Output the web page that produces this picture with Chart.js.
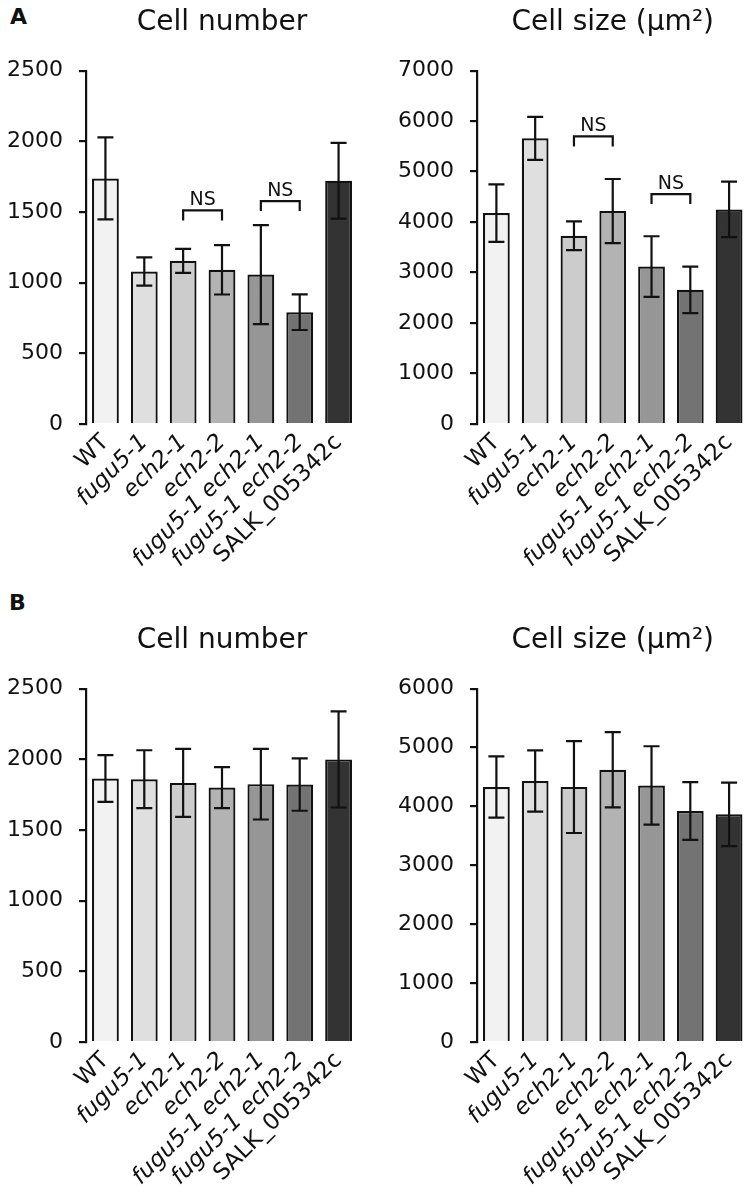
<!DOCTYPE html>
<html>
<head>
<meta charset="utf-8">
<script src="https://cdn.jsdelivr.net/npm/chart.js@4.4.1/dist/chart.umd.min.js"></script>
<style>
body { margin: 0; background: #fff; width: 754px; height: 1199px; position: relative; overflow: hidden; font-family: "DejaVu Sans", sans-serif; }
.panel { position: absolute; width: 377px; height: 582px; }
.letter { position: absolute; font-weight: bold; font-size: 22px; color: #111; }
</style>
</head>
<body>
<div class="letter" style="left:10px;top:4px">A</div>
<div class="letter" style="left:9px;top:590px">B</div>
<div class="panel" style="left:0;top:0"><canvas id="aNumber"></canvas></div>
<div class="panel" style="left:377px;top:0"><canvas id="aSize"></canvas></div>
<div class="panel" style="left:0;top:618px"><canvas id="bNumber"></canvas></div>
<div class="panel" style="left:377px;top:618px"><canvas id="bSize"></canvas></div>
<script>
const categories = ["WT", "fugu5-1", "ech2-1", "ech2-2", "fugu5-1 ech2-1", "fugu5-1 ech2-2", "SALK_005342c"];
const italicLabels = [false, true, true, true, true, true, false];
const barColors = ["#f2f2f2", "#dfdfdf", "#cccccc", "#b3b3b3", "#969696", "#737373", "#333333"];

// panel A
const aCellNumber = [1737, 1079, 1154, 1091, 1057, 791, 1721];
const aCellNumberErr = [290, 100, 85, 175, 350, 126, 268];
const aCellSize = [4178, 5658, 3728, 4218, 3119, 2657, 4250];
const aCellSizeErr = [570, 425, 285, 635, 600, 460, 550];
// NS brackets: [from bar, to bar, height]
const aCellNumberNS = [[2, 3, 1511], [4, 5, 1577]];
const aCellSizeNS = [[2, 3, 5697], [4, 5, 4555]];

// panel B
const bCellNumber = [1864, 1859, 1833, 1800, 1824, 1821, 1999];
const bCellNumberErr = [165, 205, 240, 145, 250, 185, 340];
const bCellSize = [4328, 4430, 4328, 4622, 4356, 3921, 3865];
const bCellSizeErr = [520, 520, 780, 640, 665, 490, 540];

const FONT = "'DejaVu Sans', Verdana, sans-serif";
const INK = "#111";

const errorBars = {
  id: "errorBars",
  afterDatasetsDraw(chart, args, opts) {
    const errs = opts.errors || [];
    const x = chart.scales.x, y = chart.scales.y;
    const vals = chart.data.datasets[0].data;
    const ctx = chart.ctx;
    ctx.save();
    ctx.strokeStyle = INK;
    ctx.lineWidth = 2.2;
    ctx.beginPath();
    errs.forEach((e, i) => {
      const px = x.getPixelForValue(i);
      const top = y.getPixelForValue(vals[i] + e);
      const bot = y.getPixelForValue(vals[i] - e);
      ctx.moveTo(px, top); ctx.lineTo(px, bot);
      ctx.moveTo(px - 8, top); ctx.lineTo(px + 8, top);
      ctx.moveTo(px - 8, bot); ctx.lineTo(px + 8, bot);
    });
    ctx.stroke();
    ctx.restore();
  }
};

const nsBrackets = {
  id: "nsBrackets",
  afterDatasetsDraw(chart, args, opts) {
    const pairs = opts.pairs || [];
    const x = chart.scales.x, y = chart.scales.y;
    const ctx = chart.ctx;
    ctx.save();
    ctx.strokeStyle = INK;
    ctx.fillStyle = INK;
    ctx.lineWidth = 2.2;
    ctx.font = "19px " + FONT;
    ctx.textAlign = "center";
    ctx.textBaseline = "alphabetic";
    pairs.forEach(p => {
      const x0 = x.getPixelForValue(p[0]);
      const x1 = x.getPixelForValue(p[1]);
      const py = y.getPixelForValue(p[2]);
      ctx.beginPath();
      ctx.moveTo(x0, py + 10); ctx.lineTo(x0, py); ctx.lineTo(x1, py); ctx.lineTo(x1, py + 10);
      ctx.stroke();
      ctx.fillText("NS", (x0 + x1) / 2, py - 5);
    });
    ctx.restore();
  }
};

function makeChart(id, title, values, errors, yMax, yStep, brackets, axisWidth, padRight) {
  return new Chart(document.getElementById(id), {
    type: "bar",
    data: {
      labels: categories,
      datasets: [{
        data: values,
        backgroundColor: barColors,
        borderColor: INK,
        borderWidth: 2.2,
        barPercentage: 0.69,
        categoryPercentage: 1.0
      }]
    },
    options: {
      responsive: true,
      maintainAspectRatio: false,
      animation: false,
      layout: { padding: { left: 0, right: padRight, top: 0, bottom: 0 } },
      plugins: {
        legend: { display: false },
        tooltip: { enabled: false },
        title: {
          display: true,
          text: title,
          fullSize: false,
          color: INK,
          font: { family: FONT, size: 28, weight: "normal", lineHeight: 1.2 },
          padding: { top: 6, bottom: 31 }
        },
        errorBars: { errors: errors },
        nsBrackets: { pairs: brackets }
      },
      scales: {
        x: {
          grid: { display: false, drawTicks: false },
          border: { display: false },
          ticks: {
            autoSkip: false,
            minRotation: 45,
            maxRotation: 45,
            padding: 5,
            color: INK,
            font: (c) => ({ family: FONT, size: 23, style: italicLabels[c.index] ? "italic" : "normal" })
          },
          afterFit: (s) => { s.height = 158; }
        },
        y: {
          min: 0,
          max: yMax,
          grid: { drawOnChartArea: false, drawTicks: true, tickLength: 7, lineWidth: 2.2, color: INK },
          border: { display: true, color: INK, width: 2.2 },
          ticks: {
            stepSize: yStep,
            padding: 16,
            color: INK,
            font: { family: FONT, size: 22 },
            callback: (v) => String(v)
          },
          afterFit: (s) => { s.width = axisWidth; }
        }
      }
    },
    plugins: [errorBars, nsBrackets]
  });
}

makeChart("aNumber", "Cell number", aCellNumber, aCellNumberErr, 2500, 500, aCellNumberNS, 86, 19);
makeChart("aSize", "Cell size (\u03bcm\u00b2)", aCellSize, aCellSizeErr, 7000, 1000, aCellSizeNS, 100, 4);
makeChart("bNumber", "Cell number", bCellNumber, bCellNumberErr, 2500, 500, [], 86, 19);
makeChart("bSize", "Cell size (\u03bcm\u00b2)", bCellSize, bCellSizeErr, 6000, 1000, [], 100, 4);
</script>
</body>
</html>
